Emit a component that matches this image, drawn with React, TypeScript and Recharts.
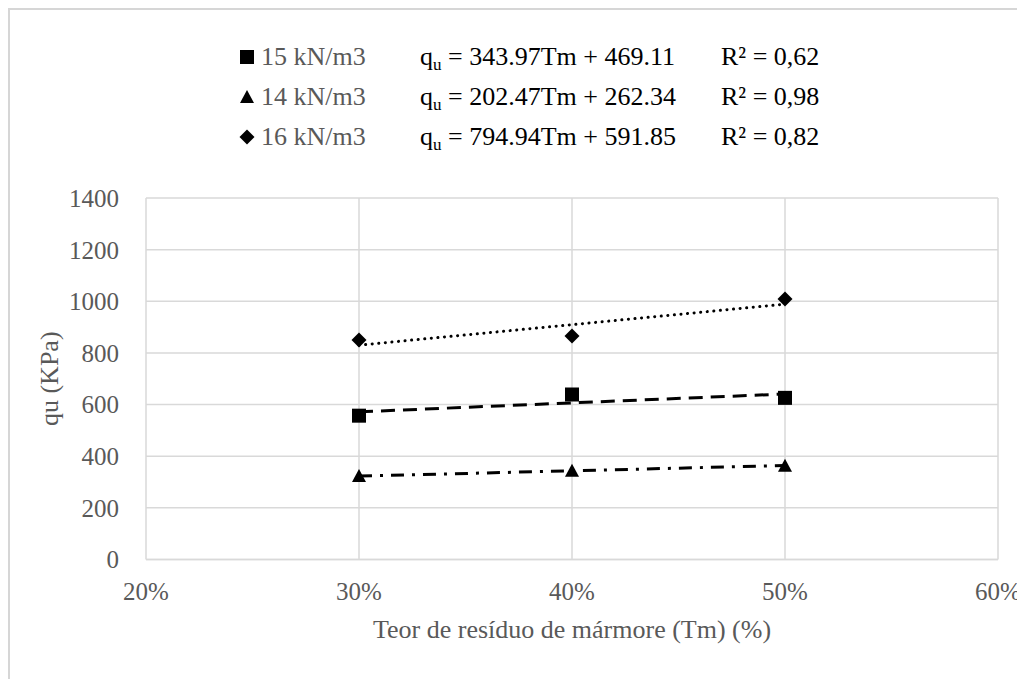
import React from "react";
import {
  ComposedChart,
  Line,
  Scatter,
  XAxis,
  YAxis,
  CartesianGrid,
  Legend,
} from "recharts";

// ---- data ----
const xValues = [0.3, 0.4, 0.5];
const qu15 = [557, 639, 626];
const qu14 = [323, 344, 363];
const qu16 = [850, 866, 1009];

const trendX = [0.3, 0.5];
const trend15 = [572, 641];
const trend14 = [323, 364];
const trend16 = [830, 989];

const seriesNames = ["15 kN/m3", "14 kN/m3", "16 kN/m3"];
const equations = ["343.97Tm + 469.11", "202.47Tm + 262.34", "794.94Tm + 591.85"];
const r2Labels = ["0,62", "0,98", "0,82"];

const xTicks = [0.2, 0.3, 0.4, 0.5, 0.6];
const yTicks = [0, 200, 400, 600, 800, 1000, 1200, 1400];

const xTitle = "Teor de resíduo de mármore (Tm) (%)";
const yTitle = "qu (KPa)";

const FONT = '"Liberation Serif", "Times New Roman", serif';
const GRAY = "#595959";

const toPoints = (xs: number[], ys: number[]) => xs.map((x, i) => ({ x, y: ys[i] }));

const pts15 = toPoints(xValues, qu15);
const pts14 = toPoints(xValues, qu14);
const pts16 = toPoints(xValues, qu16);
const tr15 = toPoints(trendX, trend15);
const tr14 = toPoints(trendX, trend14);
const tr16 = toPoints(trendX, trend16);

type Kind = "square" | "triangle" | "diamond";
const kinds: Kind[] = ["square", "triangle", "diamond"];

const Marker = ({ kind, cx, cy }: { kind: Kind; cx: number; cy: number }) => {
  if (kind === "square") return <rect x={cx - 7} y={cy - 7} width={14} height={14} fill="#000" />;
  if (kind === "triangle")
    return <polygon points={`${cx},${cy - 7} ${cx + 7},${cy + 6} ${cx - 7},${cy + 6}`} fill="#000" />;
  return <polygon points={`${cx},${cy - 7.5} ${cx + 7.5},${cy} ${cx},${cy + 7.5} ${cx - 7.5},${cy}`} fill="#000" />;
};

const shapeFor = (kind: Kind) => (props: any) => <Marker kind={kind} cx={props.cx} cy={props.cy} />;

const legendRowTops = [27, 67, 107];

const LegendContent = (props: any) => {
  const payload = (props.payload || [])
    .filter((p: any) => seriesNames.includes(p.value))
    .sort((a: any, b: any) => seriesNames.indexOf(a.value) - seriesNames.indexOf(b.value));
  return (
    <div style={{ position: "relative", width: 1000, height: 160, fontFamily: FONT, fontSize: 26 }}>
      {payload.map((p: any, i: number) => {
        const idx = seriesNames.indexOf(p.value);
        return (
          <div key={p.value} style={{ position: "absolute", top: legendRowTops[i], left: 0, height: 40, width: 1000 }}>
            <svg style={{ position: "absolute", left: 229, top: 12 }} width={16} height={16}>
              <Marker kind={kinds[idx]} cx={8} cy={8} />
            </svg>
            <span style={{ position: "absolute", left: 251, top: 0, lineHeight: "40px", color: GRAY, whiteSpace: "nowrap" }}>
              {p.value}
            </span>
            <span style={{ position: "absolute", left: 410, top: 0, lineHeight: "40px", color: "#000", whiteSpace: "nowrap" }}>
              q<sub style={{ fontSize: 17, verticalAlign: "-5px" }}>u</sub> = {equations[idx]}
            </span>
            <span style={{ position: "absolute", left: 711, top: 0, lineHeight: "40px", color: "#000", whiteSpace: "nowrap" }}>
              R² = {r2Labels[idx]}
            </span>
          </div>
        );
      })}
    </div>
  );
};

const YLabel = (props: any) => {
  const vb = props.viewBox || {};
  const cx = 39;
  const cy = vb.y + vb.height / 2;
  return (
    <text
      x={cx}
      y={cy}
      transform={`rotate(-90, ${cx}, ${cy})`}
      textAnchor="middle"
      dominantBaseline="central"
      fontFamily={FONT}
      fontSize={26}
      fill={GRAY}
    >
      {yTitle}
    </text>
  );
};

const XLabel = (props: any) => {
  const vb = props.viewBox || {};
  return (
    <text
      x={vb.x + vb.width / 2}
      y={vb.y + 70}
      textAnchor="middle"
      dominantBaseline="central"
      fontFamily={FONT}
      fontSize={26}
      fill={GRAY}
    >
      {xTitle}
    </text>
  );
};

export default function App() {
  return (
    <div style={{ width: 1040, height: 700, border: "2px solid #d6d6d6", background: "#fff" }}>
      <ComposedChart
        width={1030}
        height={690}
        margin={{ top: 188, right: 42, left: 0, bottom: 60.5 }}
      >
        <CartesianGrid stroke="#d9d9d9" strokeWidth={1.5} horizontal vertical />
        <XAxis
          type="number"
          dataKey="x"
          domain={[0.2, 0.6]}
          ticks={xTicks}
          tickFormatter={(v: number) => `${Math.round(v * 100)}%`}
          tickLine={false}
          tickSize={0}
          tickMargin={22.5}
          axisLine={{ stroke: "#d9d9d9", strokeWidth: 1.5 }}
          tick={{ fill: GRAY, fontSize: 25, fontFamily: FONT }}
          height={80}
          interval={0}
          label={<XLabel />}
        />
        <YAxis
          type="number"
          dataKey="y"
          domain={[0, 1400]}
          ticks={yTicks}
          tickLine={false}
          tickSize={0}
          tickMargin={27}
          axisLine={false}
          tick={{ fill: GRAY, fontSize: 25, fontFamily: FONT }}
          width={136}
          interval={0}
          label={<YLabel />}
        />
        <Legend
          layout="vertical"
          verticalAlign="middle"
          align="center"
          wrapperStyle={{ top: 0, left: 0, width: 1000, height: 160 }}
          content={<LegendContent />}
        />
        <Line data={tr15} dataKey="y" stroke="#000" strokeWidth={3} strokeDasharray="14 8" dot={false} activeDot={false} legendType="none" isAnimationActive={false} />
        <Line data={tr14} dataKey="y" stroke="#000" strokeWidth={3} strokeDasharray="13 8 3 8" dot={false} activeDot={false} legendType="none" isAnimationActive={false} />
        <Line data={tr16} dataKey="y" stroke="#000" strokeWidth={3} strokeDasharray="0.1 6.5" strokeLinecap="round" dot={false} activeDot={false} legendType="none" isAnimationActive={false} />
        <Scatter name={seriesNames[0]} data={pts15} fill="#000" shape={shapeFor("square")} isAnimationActive={false} />
        <Scatter name={seriesNames[1]} data={pts14} fill="#000" shape={shapeFor("triangle")} isAnimationActive={false} />
        <Scatter name={seriesNames[2]} data={pts16} fill="#000" shape={shapeFor("diamond")} isAnimationActive={false} />
      </ComposedChart>
    </div>
  );
}
